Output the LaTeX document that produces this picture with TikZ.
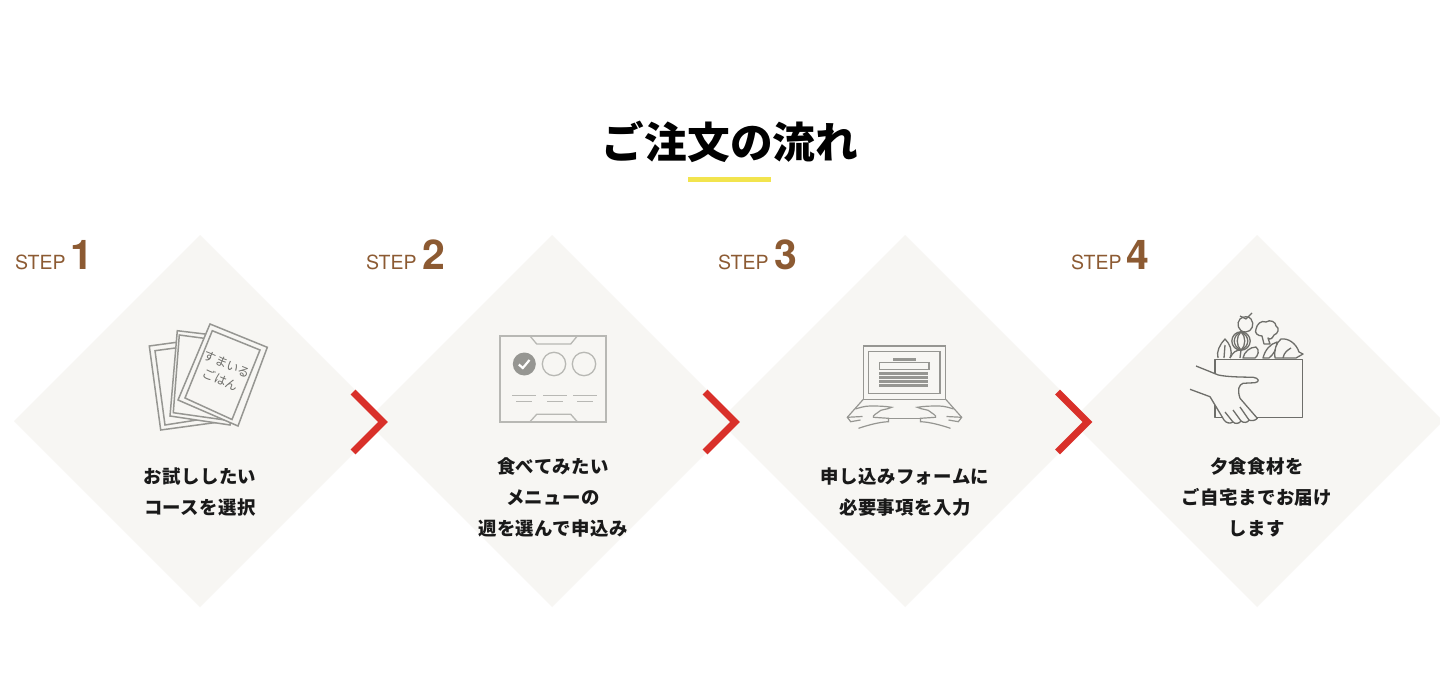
\documentclass[tikz,border=0pt]{standalone}
\usepackage{fontspec}
\setmainfont{Noto Sans CJK JP}
\newfontfamily\stepfont{TeX Gyre Heros}
\newfontfamily\bodyfont[LetterSpace=2.5]{Noto Sans CJK JP}
\usetikzlibrary{arrows.meta, calc}
\definecolor{orderPaper}{RGB}{247,246,243}
\definecolor{orderBrown}{RGB}{140,90,50}
\definecolor{orderRed}{RGB}{217,48,42}
\definecolor{orderYellow}{RGB}{242,228,78}
\definecolor{iconGray}{RGB}{150,150,146}
\definecolor{iconLight}{RGB}{184,184,180}
\definecolor{iconDark}{RGB}{110,110,106}
\tikzset{
  stepword/.style={text=orderBrown, font=\stepfont\fontsize{19.5}{20}\selectfont, anchor=base west, inner sep=0pt},
  stepnum/.style={text=orderBrown, font=\stepfont\bfseries\fontsize{41}{41}\selectfont, anchor=base west, inner sep=0pt},
  steptext/.style={font=\bodyfont\bfseries\fontsize{18.4}{31}\selectfont, align=center, text=black!90},
  cardline/.style={iconGray, line width=1.5pt, fill=orderPaper},
  menuline/.style={iconLight, line width=1.3pt},
  pcline/.style={iconGray, line width=1.2pt},
  boxline/.style={iconDark, line width=1.3pt, fill=orderPaper, line join=round}
}
\begin{document}
\begin{tikzpicture}[x=1pt, y=-1pt]
  \useasboundingbox (0,0) rectangle (1440,698);
  \fill [white] (0,0) rectangle (1440,698);

  % title
  \node [font=\bfseries\fontsize{42.7}{43}\selectfont] (orderTitle) at (730,142) {ご注文の流れ};
  \fill [orderYellow] (688,177) rectangle (771,182);

  % diamonds, labels and chevrons
  \foreach \cx/\num/\wx/\nx in {200/1/15/70, 552/2/366/422, 905/3/718/774, 1257/4/1071/1126} {
    \fill [orderPaper] (\cx,235) -- (\cx+186,421) -- (\cx,607) -- (\cx-186,421) -- cycle;
    \node [stepword] (stepWord\num) at (\wx,269) {STEP};
    \node [stepnum] (stepNum\num) at (\nx,269.5) {\num};
  }
  \foreach \cx in {353,705,1057.5} {
    \draw [orderRed, line width=7pt, miter limit=10] (\cx,392) -- (\cx+30,422) -- (\cx,452);
  }

  \node [steptext] (courseText) at (200,492.5) {お試ししたい\\コースを選択};
  \node [steptext] (menuText) at (553,497) {食べてみたい\\メニューの\\週を選んで申込み};
  \node [steptext] (formText) at (905,492.5) {申し込みフォームに\\必要事項を入力};
  \node [steptext] (homeText) at (1257,497) {夕食食材を\\ご自宅までお届け\\します};

  % cards
  \filldraw [cardline] (149.3,346) -- (210.3,337.7) -- (221.7,421.7) -- (160.7,430) -- cycle;
  \draw [cardline] (155,350.7) -- (205,344) -- (216,417) -- (165,425) -- cycle;
  \filldraw [cardline] (177.3,330.7) -- (238,338) -- (230,425) -- (170,416) -- cycle;
  \draw [cardline] (179.3,335) -- (232,342) -- (225,420) -- (173.3,412.7) -- cycle;
  \filldraw [cardline] (210,324) -- (267.3,347.3) -- (238,426) -- (178,400) -- cycle;
  \draw [cardline] (212.3,330.7) -- (260,350) -- (232,419.5) -- (185,398) -- cycle;
  \node [rotate=-24, text=iconDark, align=center, font=\fontsize{12.3}{16.5}\selectfont] (cardText) at (224,372) {すまいる\\ごはん};

  % menu sheet
  \draw [menuline, line width=1.6pt] (500,336) rectangle (606,421.7);
  \draw [menuline] (530,336) -- (536.7,344) -- (570.7,344) -- (577.3,336);
  \draw [menuline] (530,421.7) -- (536.7,414.3) -- (570.7,414.3) -- (577.3,421.7);
  \fill [iconGray] (524.3,364) circle (11.5);
  \draw [white, line width=2.2pt] (518.8,364.5) -- (522.8,368) -- (529.5,360);
  \draw [menuline] (554,364) circle (11.7);
  \draw [menuline] (584,364) circle (11.7);
  \foreach \lx in {512.3,543.3,573.3} {
    \draw [menuline] (\lx,395.7) -- (\lx+24,395.7);
    \draw [menuline] (\lx+4,401.7) -- (\lx+20,401.7);
  }

  % laptop
  \draw [pcline, line width=1.5pt] (863.3,346) rectangle (945.7,399.3);
  \draw [pcline, line width=1.5pt] (868.3,351.7) rectangle (940,393.3);
  \fill [iconGray] (892.7,357.5) rectangle (916,361);
  \draw [pcline] (879.3,362.3) rectangle (929,369.3);
  \foreach \ly in {373.5,377.5,381.5,385.5} {
    \draw [iconGray, line width=2.4pt] (879.3,\ly) -- (928.3,\ly);
  }
  \draw [pcline] (889.3,418.3) -- (919.7,418.3);
  \foreach \side in {1,-1} {
    \begin{scope}[shift={(904.5,0)}, xscale=\side]
      \draw [pcline] (-41.2,399.3) -- (-57.2,417.3) -- (-53.8,421.7) -- (-44,420);
      \draw [pcline] (-57.2,417.3) -- (-42,416.5);
      \draw [pcline] (-49,409) .. controls (-46,408) and (-40,406) .. (-34.5,406)
        .. controls (-28,406) and (-20,406) .. (-12.8,407.3)
        .. controls (-18,410) and (-24,409) .. (-26,412)
        .. controls (-28,414) and (-32,415) .. (-31,417.3)
        -- (-16,418.3) -- (-16,421.7)
        .. controls (-25,422) and (-36,425) .. (-46,428.3);
    \end{scope}
  }

  % grocery box
  \draw [boxline] (1215,359.3) rectangle (1302.3,417.7);
  \draw [boxline] (1245.5,332) .. controls (1238,332) and (1236,323) .. (1240,319)
    .. controls (1243,316) and (1249,316) .. (1251,319)
    .. controls (1255,324) and (1252,332) .. (1245.5,332) -- cycle;
  \draw [boxline, fill=none] (1252,313) -- (1246,319) -- (1240,316);
  \draw [boxline] (1256,329) .. controls (1257,324) and (1261,320) .. (1266,322)
    .. controls (1270,319) and (1276,322) .. (1276,326)
    .. controls (1280,328) and (1278,334) .. (1274,335)
    .. controls (1272,339) and (1270,340) .. (1268,338)
    -- (1270,344) -- (1264,344) -- (1262,336)
    .. controls (1258,336) and (1254,333) .. (1256,329) -- cycle;
  \draw [boxline] (1241,341) circle (9.2);
  \draw [boxline, fill=none] (1241,331.8) .. controls (1236,336) and (1236,346) .. (1241,350.2);
  \draw [boxline, fill=none] (1241,331.8) .. controls (1246,336) and (1246,346) .. (1241,350.2);
  \draw [boxline, fill=none] (1241,331.8) .. controls (1232,336) and (1232,346) .. (1241,350.2);
  \draw [boxline, fill=none] (1241,331.8) .. controls (1250,336) and (1250,346) .. (1241,350.2);
  \draw [boxline] (1218,358) .. controls (1216,352) and (1220,344) .. (1225,339)
    .. controls (1230,344) and (1233,351) .. (1230,358);
  \draw [boxline, fill=none] (1225,345) -- (1224,358);
  \draw [boxline] (1230,358) .. controls (1233,352) and (1236,350) .. (1241,350) -- (1240,358);
  \draw [boxline] (1243,358) .. controls (1244,352) and (1250,347) .. (1256,347)
    .. controls (1260,350) and (1258,356) .. (1255,358) -- cycle;
  \draw [boxline] (1263,358) .. controls (1265,350) and (1270,344) .. (1277,342)
    .. controls (1277,349) and (1273,355) .. (1269,358) -- cycle;
  \draw [boxline] (1275,358) .. controls (1274,350) and (1276,343) .. (1281,339)
    .. controls (1288,338) and (1296,343) .. (1299,352)
    -- (1303,354) -- (1296,358) -- cycle;
  \draw [boxline, fill=none] (1283,358) .. controls (1284,352) and (1288,350) .. (1291,348);
  \draw [boxline] (1196,366) -- (1218.3,375) .. controls (1228,377) and (1240,377) .. (1253.3,377.3)
    .. controls (1259,378) and (1260,382) .. (1255,382.7)
    -- (1243,383.3) .. controls (1239,385) and (1237,389) .. (1240,398.3)
    -- (1257.3,418.3) .. controls (1255,421) and (1251,421) .. (1249,420)
    .. controls (1248,423) and (1243,423) .. (1241,421)
    .. controls (1239,424) and (1235,424) .. (1233,422)
    .. controls (1230,424) and (1226,423) .. (1224,420)
    -- (1210,396.7) -- (1190,389.3);
  \draw [boxline, fill=none] (1240,407) -- (1249,420);
  \draw [boxline, fill=none] (1233,410) -- (1241,421);
  \draw [boxline, fill=none] (1225,412) -- (1233,422);
\end{tikzpicture}
\end{document}
